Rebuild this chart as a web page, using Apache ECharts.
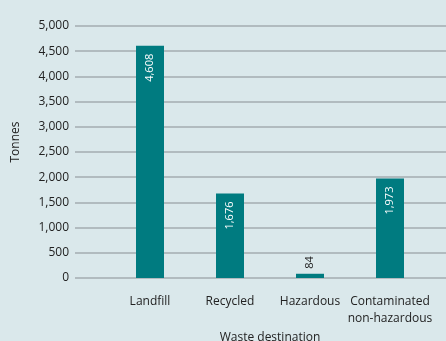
<!DOCTYPE html>
<html>
<head>
<meta charset="utf-8">
<script src="https://cdn.jsdelivr.net/npm/echarts@6/dist/echarts.min.js"></script>
<style>
  html, body { margin: 0; padding: 0; background: #dae8eb; }
  #chart { width: 446px; height: 341px; }
</style>
</head>
<body>
<div id="chart"></div>
<script>
// Waste by destination, in tonnes
const categories = ['Landfill', 'Recycled', 'Hazardous', 'Contaminated\nnon-hazardous'];
const tonnes = [4608, 1676, 84, 1973];
const yTicks = { min: 0, max: 5000, step: 500 };

const FONT = 'Open Sans';
const TEXT = '#222222';
const BAR = '#007b80';

const chart = echarts.init(document.getElementById('chart'), null, { renderer: 'canvas' });

const barData = tonnes.map(function (v) {
  // Labels sit inside tall bars and above short ones
  const inside = v > 500;
  return {
    value: v,
    label: inside
      ? { position: 'insideTop', distance: 8, rotate: 90, align: 'right', verticalAlign: 'middle', color: '#ffffff' }
      : { position: 'top', distance: 5, rotate: 90, align: 'left', verticalAlign: 'middle', color: TEXT }
  };
});

chart.setOption({
  backgroundColor: '#dae8eb',
  animation: false,
  textStyle: { fontFamily: FONT },
  grid: [
    // full-width grid carrying the horizontal gridlines and value labels
    { left: 75, right: 0, top: 26, bottom: 63, containLabel: false, outerBoundsMode: 'none' },
    // narrower grid holding the bars and category labels
    { left: 110, right: 16, top: 26, bottom: 63, containLabel: false, outerBoundsMode: 'none' }
  ],
  xAxis: [
    { gridIndex: 0, type: 'category', data: categories, show: false },
    {
      gridIndex: 1, type: 'category', data: categories,
      axisLine: { show: false }, axisTick: { show: false },
      axisLabel: { interval: 0, margin: 15, color: TEXT, fontFamily: FONT, fontSize: 12, lineHeight: 17 },
      name: 'Waste destination', nameLocation: 'middle', nameGap: 50,
      nameTextStyle: { color: TEXT, fontFamily: FONT, fontSize: 12 }
    }
  ],
  yAxis: [
    {
      gridIndex: 0, type: 'value', min: yTicks.min, max: yTicks.max, interval: yTicks.step,
      axisLine: { show: false }, axisTick: { show: false },
      axisLabel: {
        margin: 6, color: TEXT, fontFamily: FONT, fontSize: 12,
        formatter: function (v) { return v.toLocaleString('en-US'); }
      },
      splitLine: { lineStyle: { color: '#a3adb0', width: 1.5 } },
      name: 'Tonnes', nameLocation: 'middle', nameGap: 53, nameRotate: 90,
      nameTextStyle: { color: TEXT, fontFamily: FONT, fontSize: 12, padding: [0, 0, 0, 20] }
    },
    {
      gridIndex: 1, type: 'value', min: yTicks.min, max: yTicks.max, interval: yTicks.step,
      show: false, splitLine: { show: false }
    }
  ],
  series: [{
    type: 'bar',
    xAxisIndex: 1, yAxisIndex: 1,
    data: barData,
    barWidth: 28,
    itemStyle: { color: BAR },
    label: {
      show: true, fontFamily: FONT, fontSize: 11,
      formatter: function (p) { return p.value.toLocaleString('en-US'); }
    }
  }]
});
</script>
</body>
</html>
